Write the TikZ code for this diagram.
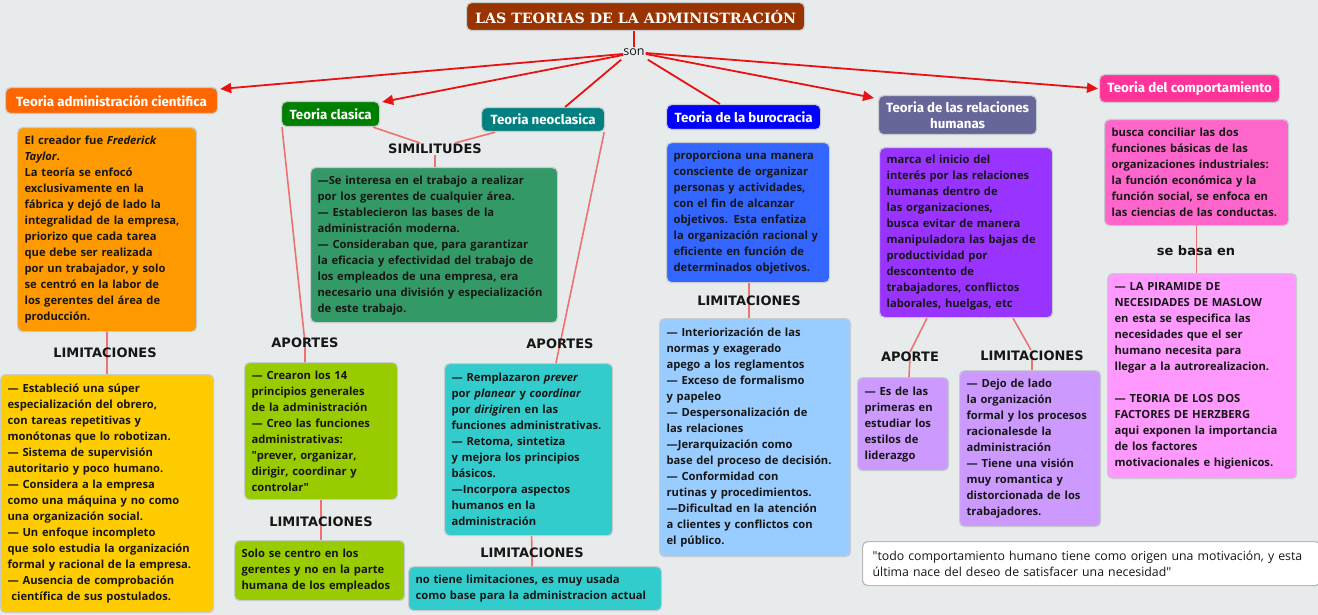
\documentclass[tikz,border=0pt]{standalone}
\usepackage{fontspec}
\setmainfont{Open Sans}
\newfontfamily\hdfont{Fira Sans}
\newfontfamily\lblfont{DejaVu Sans}
\newfontfamily\ttlfont{DejaVu Serif}
\usetikzlibrary{arrows.meta,calc}
\definecolor{bgc}{HTML}{E8EBEC}
\definecolor{bord}{HTML}{C8CBCD}
\definecolor{txt}{HTML}{161616}
\definecolor{arrc}{HTML}{E81212}
\definecolor{connc}{HTML}{EE7272}
\definecolor{cTitle}{HTML}{993300}
\definecolor{cCient}{HTML}{FF6600}
\definecolor{cClas}{HTML}{008000}
\definecolor{cNeo}{HTML}{008080}
\definecolor{cBuro}{HTML}{0000FF}
\definecolor{cRH}{HTML}{666699}
\definecolor{cComp}{HTML}{FF3399}
\definecolor{cOrange}{HTML}{FF9900}
\definecolor{cYellow}{HTML}{FFCC00}
\definecolor{cSea}{HTML}{339966}
\definecolor{cLime}{HTML}{99CC00}
\definecolor{cTeal}{HTML}{33CCCC}
\definecolor{cBlue}{HTML}{3366FF}
\definecolor{cLBlue}{HTML}{99CCFF}
\definecolor{cPurple}{HTML}{9933FF}
\definecolor{cLilac}{HTML}{CC99FF}
\definecolor{cPink}{HTML}{FF66CC}
\definecolor{cLPink}{HTML}{FF99FF}
\tikzset{
  box/.style={draw=bord, line width=1.2pt, rounded corners=5pt, anchor=north west,
    inner xsep=7pt, inner ysep=3pt, align=left, text=txt,
    font=\bfseries\fontsize{11.2}{16}\selectfont},
  hd/.style={draw=bord, line width=1.2pt, rounded corners=5pt, anchor=north west,
    text=white, align=center, inner sep=0pt,
    font=\hdfont\bfseries\fontsize{13.3}{16}\selectfont},
  lbl/.style={font=\lblfont\bfseries\fontsize{13}{15}\selectfont, text=txt, inner sep=1pt},
  conn/.style={draw=connc, line width=1.6pt},
  arr/.style={draw=arrc, line width=1.8pt, -{Triangle[length=11pt,width=10pt]}},
  ln/.style={draw=arrc, line width=1.8pt},
}
\newcommand\mybox[8][]{%
  \pgfmathsetmacro\bw{#5-#3}\pgfmathsetmacro\bh{#6-#4}\pgfmathsetmacro\tw{#5-#3-14}%
  \node[box,fill=#7,minimum width=\bw pt,minimum height=\bh pt,text width=\tw pt,#1] (#2) at (#3,#4) {#8};}
\newcommand\hdbox[8][]{%
  \pgfmathsetmacro\bw{#5-#3}\pgfmathsetmacro\bh{#6-#4}%
  \node[hd,fill=#7,minimum width=\bw pt,minimum height=\bh pt,#1] (#2) at (#3,#4) {#8};}
\begin{document}
\begin{tikzpicture}[x=1pt,y=-1pt]
\useasboundingbox[fill=bgc] (0,0) rectangle (1318,615);

% headers
\hdbox[font=\ttlfont\bfseries\fontsize{14.2}{16}\selectfont]{title}{466}{2}{804}{30}{cTitle}{LAS TEORIAS DE LA ADMINISTRACIÓN}
\hdbox{cient}{5}{87}{217}{113}{cCient}{Teoria administración cientifica}
\hdbox{clas}{281}{101}{379}{126}{cClas}{Teoria clasica}
\hdbox{neo}{481}{107}{604}{131}{cNeo}{Teoria neoclasica}
\hdbox{buro}{666}{104}{820}{129}{cBuro}{Teoria de la burocracia}
\hdbox{rh}{878}{95}{1036}{134}{cRH}{Teoria de las relaciones\\humanas}
\hdbox{comp}{1099}{74}{1279}{102}{cComp}{Teoria del comportamiento}

\node[font=\fontsize{12.5}{14}\selectfont, text=txt, inner sep=1pt] (son) at (634,52) {son};

% boxes
\mybox{ciedesc}{17}{127}{196}{331}{cOrange}{El creador fue \textit{Frederick}\\ \textit{Taylor}.\\ La teoría se enfocó\\ exclusivamente en la\\ fábrica y dejó de lado la\\ integralidad de la empresa,\\ priorizo que cada tarea\\ que debe ser realizada\\ por un trabajador, y solo\\ se centró en la labor de\\ los gerentes del área de\\ producción.}
\mybox{cielim}{0}{374}{213}{612}{cYellow}{— Estableció una súper\\ especialización del obrero,\\ con tareas repetitivas y\\ monótonas que lo robotizan.\\ — Sistema de supervisión\\ autoritario y poco humano.\\ — Considera a la empresa\\ como una máquina y no como\\ una organización social.\\ — Un enfoque incompleto\\ que solo estudia la organización\\ formal y racional de la empresa.\\ — Ausencia de comprobación\\ \ científica de sus postulados.}
\mybox{simbox}{310}{167}{557}{322}{cSea}{—Se interesa en el trabajo a realizar\\ por los gerentes de cualquier área.\\ — Establecieron las bases de la\\ administración moderna.\\ — Consideraban que, para garantizar\\ la eficacia y efectividad del trabajo de\\ los empleados de una empresa, era\\ necesario una división y especialización\\ de este trabajo.}
\mybox{clasap}{244}{362}{397}{499}{cLime}{— Crearon los 14\\ principios generales\\ de la administración\\ — Creo las funciones\\ administrativas:\\ \textquotedbl prever, organizar,\\ dirigir, coordinar y\\ controlar\textquotedbl}
\mybox{claslim}{234}{540}{404}{600}{cLime}{Solo se centro en los\\ gerentes y no en la parte\\ humana de los empleados}
\mybox{neoap}{444}{363}{612}{535}{cTeal}{— Remplazaron \textit{prever}\\ por \textit{planear} y \textit{coordinar}\\ por \textit{dirigir}en en las\\ funciones administrativas.\\ — Retoma, sintetiza\\ y mejora los principios\\ básicos.\\ —Incorpora aspectos\\ humanos en la\\ administración}
\mybox{neolim}{408}{566}{661}{610}{cTeal}{no tiene limitaciones, es muy usada\\ como base para la administracion actual}
\mybox{burodesc}{666}{142}{829}{282}{cBlue}{proporciona una manera\\ consciente de organizar\\ personas y actividades,\\ con el fin de alcanzar\\ objetivos. Esta enfatiza\\ la organización racional y\\ eficiente en función de\\ determinados objetivos.}
\mybox{burolim}{659}{318}{850}{556}{cLBlue}{— Interiorización de las\\ normas y exagerado\\ apego a los reglamentos\\ — Exceso de formalismo\\ y papeleo\\ — Despersonalización de\\ las relaciones\\ —Jerarquización como\\ base del proceso de decisión.\\ — Conformidad con\\ rutinas y procedimientos.\\ —Dificultad en la atención\\ a clientes y conflictos con\\ el público.}
\mybox{rhdesc}{879}{147}{1052}{317}{cPurple}{marca el inicio del\\ interés por las relaciones\\ humanas dentro de\\ las organizaciones,\\ busca evitar de manera\\ manipuladora las bajas de\\ productividad por\\ descontento de\\ trabajadores, conflictos\\ laborales, huelgas, etc}
\mybox{rhap}{857}{377}{948}{470}{cLilac}{— Es de las\\ primeras en\\ estudiar los\\ estilos de\\ liderazgo}
\mybox{rhlim}{959}{370}{1100}{526}{cLilac}{— Dejo de lado\\ la organización\\ formal y los procesos\\ racionalesde la\\ administración\\ — Tiene una visión\\ muy romantica y\\ distorcionada de los\\ trabajadores.}
\mybox{compdesc}{1104}{119}{1288}{225}{cPink}{busca conciliar las dos\\ funciones básicas de las\\ organizaciones industriales:\\ la función económica y la\\ función social, se enfoca en\\ las ciencias de las conductas.}
\mybox{compbase}{1107}{273}{1296}{478}{cLPink}{— LA PIRAMIDE DE\\ NECESIDADES DE MASLOW\\ en esta se especifica las\\ necesidades que el ser\\ humano necesita para\\ llegar a la autrorealizacion.\\[16pt] — TEORIA DE LOS DOS\\ FACTORES DE HERZBERG\\ aqui exponen la importancia\\ de los factores\\ motivacionales e higienicos.}
\mybox[draw=gray!55,font=\fontsize{12.3}{16}\selectfont,inner xsep=10pt]{quote}{862}{541}{1314}{585}{white}{\textquotedbl todo comportamiento humano tiene como origen una motivación, y esta\\ última nace del deseo de satisfacer una necesidad\textquotedbl}

% label positions
\path (105,353) coordinate (l1) (435,149) coordinate (s1) (305,343) coordinate (a1)
      (321,522) coordinate (l2) (560,344) coordinate (a2) (532,553) coordinate (l3)
      (749,301) coordinate (l4) (910,357) coordinate (a3) (1032,356) coordinate (l5)
      (1196,251) coordinate (b1);

% connectors
\draw[conn] (ciedesc.south) -- (cielim.north);
\draw[conn] ($(clas.south west)+(1,0)$) -- (a1) -- (a1 |- clasap.north);
\draw[conn] (l2 |- clasap.south) -- (l2 |- claslim.north);
\draw[conn] ($(neo.south east)+(-1,0)$) -- (a2) -- ($(a2 |- neoap.north)+(-4,0)$);
\draw[conn] ($(neoap.south)+(3,0)$) -- (l3) -- (l3 |- neolim.north);
\draw[conn] ($(clas.south east)+(-7,0)$) -- ($(s1)+(-15,-6)$);
\draw[conn] ($(neo.south west)+(14,0)$) -- ($(s1)+(20,-6)$);
\draw[conn] ($(s1)+(0,6)$) -- (s1 |- simbox.north);
\draw[conn] (l4 |- burodesc.south) -- (l4 |- burolim.north);
\draw[conn] ($(rhdesc.south west)+(48,0)$) -- ($(a3)+(0,-5)$) (a3) -- ($(a3 |- rhap.north)+(-1,0)$);
\draw[conn] ($(rhdesc.south west)+(134,0)$) -- ($(l5)+(-1,-6)$) (l5) -- (l5 |- rhlim.north);
\draw[conn] (compdesc.south) -- (compdesc.south |- compbase.north);

% son connections
\draw[ln] (title.south -| son) -- (son.north);
\draw[arr] ($(son.west)+(1,2)$) -- ($(cient.north east)+(2,2)$);
\draw[arr] ($(son.west)+(1,3)$) -- ($(clas.north east)+(2,1)$);
\draw[ln] ($(son.south west)+(-1,3)$) -- ($(neo.north)+(22,0)$);
\draw[ln] ($(son.south east)+(2,3)$) -- ($(buro.north west)+(54,0)$);
\draw[arr] ($(son.east)+(0,2)$) -- ($(rh.north west)+(-4,3)$);
\draw[arr] ($(son.east)+(0,1)$) -- ($(comp.west)+(-1,0)$);

% labels
\node[lbl] (lim1) at (l1) {LIMITACIONES};
\node[lbl] (simlbl) at (s1) {SIMILITUDES};
\node[lbl] (ap1) at (a1) {APORTES};
\node[lbl] (lim2) at (l2) {LIMITACIONES};
\node[lbl] (ap2) at (a2) {APORTES};
\node[lbl] (lim3) at (l3) {LIMITACIONES};
\node[lbl] (lim4) at (l4) {LIMITACIONES};
\node[lbl] (ap3) at (a3) {APORTE};
\node[lbl] (lim5) at (l5) {LIMITACIONES};
\node[lbl] (base) at (b1) {se basa en};
\end{tikzpicture}
\end{document}
